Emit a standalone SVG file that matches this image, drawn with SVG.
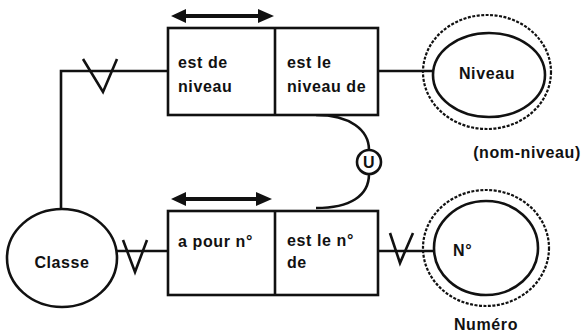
<svg xmlns="http://www.w3.org/2000/svg" width="583" height="335" viewBox="0 0 583 335">
<defs>
<style>
.ln{fill:none;stroke:#111;stroke-width:2.6;stroke-linecap:butt}
.bx{fill:#fff;stroke:#111;stroke-width:2.6}
.el{fill:#fff;stroke:#111;stroke-width:2.6}
.ds{fill:none;stroke:#111;stroke-width:2.2;stroke-dasharray:3 1.5}
.t{font-family:"Liberation Sans",Arial,sans-serif;font-weight:bold;font-size:16px;letter-spacing:0.6px;fill:#111}
</style>
</defs>
<rect width="583" height="335" fill="#fff"/>
<g id="connectors">
<path class="ln" d="M168,71 H61 V210"/>
<path class="ln" d="M83,59 L103,92 L117,59"/>
<path class="ln" d="M378,71 H433"/>
<path class="ln" d="M117,251 H168"/>
<path class="ln" d="M123,240 L135,272 L147,240"/>
<path class="ln" d="M379,251 H433"/>
<path class="ln" d="M390,233 L400,263 L413,233"/>
<path class="ln" d="M316,115 C350,115 369,130 369,150"/>
<path class="ln" d="M369,174 C369,196 350,208 316,208"/>
<path d="M171,16 L186,9 L186,14 L258,14 L258,9 L274,16 L258,23 L258,18 L186,18 L186,23 Z" fill="#111"/>
<path d="M171,199 L186,192 L186,197 L256,197 L256,192 L272,199 L256,206 L256,201 L186,201 L186,206 Z" fill="#111"/>
</g>
<g id="box-top">
<rect class="bx" x="168" y="28" width="210" height="87"/>
<line class="ln" x1="275" y1="28" x2="275" y2="115"/>
<text class="t" x="178" y="68">est de</text>
<text class="t" x="178" y="92">niveau</text>
<text class="t" x="287" y="68">est le</text>
<text class="t" x="287" y="92">niveau de</text>
</g>
<g id="box-bottom">
<rect class="bx" x="168" y="211" width="210" height="84"/>
<line class="ln" x1="275" y1="211" x2="275" y2="295"/>
<text class="t" x="178" y="247">a pour n°</text>
<text class="t" x="287" y="246">est le n°</text>
<text class="t" x="287" y="268">de</text>
</g>
<g id="classe">
<ellipse class="el" cx="62" cy="258" rx="55" ry="49"/>
<text class="t" x="62" y="268" text-anchor="middle">Classe</text>
</g>
<g id="niveau">
<ellipse class="ds" cx="487" cy="72" rx="64" ry="57"/>
<ellipse class="el" cx="489" cy="75" rx="56" ry="42"/>
<text class="t" x="487" y="79" text-anchor="middle">Niveau</text>
<text class="t" x="527" y="158" text-anchor="middle">(nom-niveau)</text>
</g>
<g id="numero">
<ellipse class="ds" cx="486" cy="248" rx="63" ry="58"/>
<ellipse class="el" cx="486" cy="248" rx="52" ry="47"/>
<text class="t" x="453" y="256">N°</text>
<text class="t" x="486" y="330" text-anchor="middle">Numéro</text>
</g>
<g id="union">
<circle class="el" cx="369" cy="162" r="12"/>
<text class="t" x="369" y="168" text-anchor="middle" letter-spacing="0">U</text>
</g>
</svg>
